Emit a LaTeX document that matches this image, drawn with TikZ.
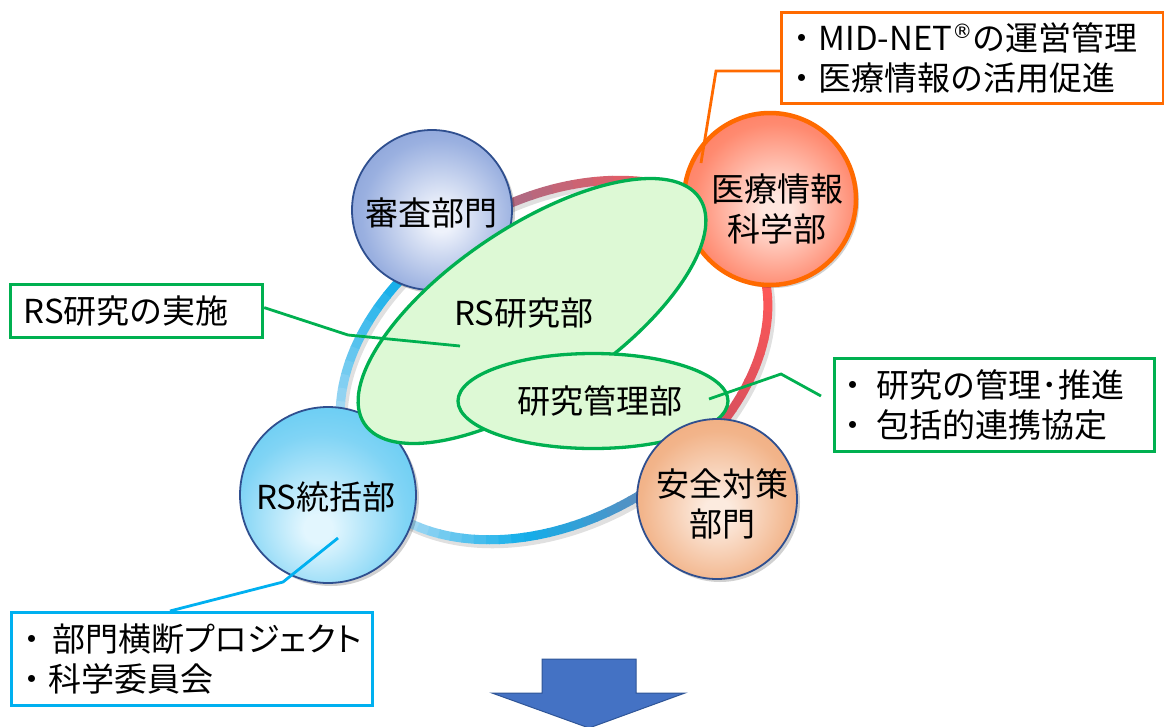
\documentclass[tikz,border=0pt]{standalone}
\usepackage{fontspec}
\setmainfont{Noto Sans CJK JP}
\newfontfamily\dvfont{DejaVu Sans}
\usetikzlibrary{shapes.geometric,shadows}

\definecolor{rRed}{HTML}{FF5757}
\definecolor{rMauve}{HTML}{A56C88}
\definecolor{rRose}{HTML}{D8505E}
\definecolor{rCyan}{HTML}{12AEEA}
\definecolor{rLight}{HTML}{A8DAF4}
\definecolor{rSteel}{HTML}{5A8EC0}

\definecolor{cShA}{HTML}{EEF2FB}
\definecolor{cShB}{HTML}{9AB0E0}
\definecolor{cShC}{HTML}{6683C6}
\definecolor{cIrA}{HTML}{FFE6DE}
\definecolor{cIrB}{HTML}{FF8A70}
\definecolor{cIrC}{HTML}{FF5533}
\definecolor{cToA}{HTML}{E2F6FE}
\definecolor{cToB}{HTML}{80D4F5}
\definecolor{cToC}{HTML}{38BEEF}
\definecolor{cAnA}{HTML}{FCEBDF}
\definecolor{cAnB}{HTML}{F2B48A}
\definecolor{cAnC}{HTML}{EC9963}

\definecolor{deptBorder}{HTML}{2F4F8F}
\definecolor{cOrange}{HTML}{FF6A00}
\definecolor{cGreen}{HTML}{00B050}
\definecolor{cGFill}{HTML}{DDF9D5}
\definecolor{cCyan}{HTML}{00B0F0}
\definecolor{cArrow}{HTML}{4472C4}
\definecolor{cArrowB}{HTML}{2F5597}

\pgfdeclareradialshading{shShinsa}{\pgfpoint{3bp}{-3bp}}{color(0bp)=(cShA); color(4bp)=(cShA); color(24bp)=(cShB); color(50bp)=(cShC); color(75bp)=(cShC)}
\pgfdeclareradialshading{shIryo}{\pgfpoint{2bp}{-3bp}}{color(0bp)=(cIrA); color(4bp)=(cIrA); color(24bp)=(cIrB); color(50bp)=(cIrC); color(75bp)=(cIrC)}
\pgfdeclareradialshading{shTokatsu}{\pgfpoint{-3bp}{-10bp}}{color(0bp)=(cToA); color(4bp)=(cToA); color(24bp)=(cToB); color(50bp)=(cToC); color(75bp)=(cToC)}
\pgfdeclareradialshading{shAnzen}{\pgfpoint{0bp}{-4bp}}{color(0bp)=(cAnA); color(4bp)=(cAnA); color(24bp)=(cAnB); color(50bp)=(cAnC); color(75bp)=(cAnC)}

\begin{document}
\begin{tikzpicture}[x=1pt,y=-1pt,
  dept/.style={circle, inner sep=0pt, line width=1.8pt, draw=deptBorder,
    drop shadow={shadow xshift=3pt, shadow yshift=-3pt, opacity=0.18, fill=black}},
  jtext/.style={font=\fontsize{33}{40}\selectfont, align=center, inner sep=0pt},
  grp/.style={ellipse, inner sep=0pt, draw=cGreen, line width=3.3pt, fill=cGFill},
  box/.style={draw, line width=3.2pt, fill=white, inner ysep=0pt, align=left,
    anchor=north west, font=\fontsize{33}{40}\selectfont},
  conn/.style={line width=2.8pt}
]
\useasboundingbox (0,0) rectangle (1164,726);
\fill[white] (0,0) rectangle (1164,726);

% ring shadow
\begin{scope}[shift={(557,364)}, y=1pt, rotate=30]
  \draw[line width=9pt, black, opacity=0.12] (0,0) ellipse [x radius=229, y radius=160];
\end{scope}
% ring
\begin{scope}[shift={(554,360)}, y=1pt, rotate=30]
  \foreach \ta/\tb/\ca/\cb in {-60/-15/rRose/rRed, -15/30/rRed/rRed, 30/85/rRed/rMauve, 85/115/rMauve/rCyan, 115/158/rCyan/rLight, 158/205/rLight/rLight, 205/240/rLight/rCyan, 240/272/rCyan/rSteel, 272/300/rSteel/rRose}{
    \foreach \i in {0,...,9}{
      \pgfmathsetmacro\u{\ta+(\tb-\ta)*\i/10}
      \pgfmathsetmacro\v{\ta+(\tb-\ta)*(\i+1)/10+0.3}
      \pgfmathtruncatemacro\p{95-10*\i}
      \draw[line width=9pt, draw=\ca!\p!\cb] (\u:229 and 160) arc[start angle=\u, end angle=\v, x radius=229, y radius=160];
    }
  }
\end{scope}

% departments
\node[dept, minimum size=160pt, shading=shShinsa] (shinsa) at (432,210) {};
\node[jtext] (shinsaT) at (431,213) {審査部門};

\node[dept, minimum size=172pt, shading=shIryo, draw=cOrange, line width=4.5pt] (iryo) at (770,199) {};
\node[jtext] (iryoT) at (777,209) {医療情報\\科学部};

\node[dept, minimum size=176pt, shading=shTokatsu] (tokatsu) at (328,495) {};
\node[jtext] (tokatsuT) at (326,497) {RS統括部};

% research groups
\node[grp, minimum width=404pt, minimum height=167pt, rotate=34] (rsken) at (532,311) {};
\node[jtext] (rskenT) at (524,313) {RS研究部};

\node[grp, minimum width=270pt, minimum height=95pt] (kanri) at (593,401) {};
\node[jtext] (kanriT) at (600,401) {研究管理部};

\node[dept, minimum size=160pt, shading=shAnzen] (anzen) at (717,499) {};
\node[jtext] (anzenT) at (722,504) {安全対策\\部門};

% callout boxes
\node[box, draw=cOrange, minimum width=382pt, minimum height=91pt, inner xsep=4pt, text width=374pt] (bmid) at (780,11)
  {・MID-NET\raisebox{12pt}{\dvfont\fontsize{20}{20}\selectfont ®}の運営管理\\・医療情報の活用促進};
\node[box, draw=cGreen, minimum width=252pt, minimum height=53pt, inner xsep=13pt, text width=226pt] (bleft) at (9,283)
  {RS研究の実施};
\node[box, draw=cGreen, minimum width=320pt, minimum height=93pt, inner xsep=2pt, text width=316pt] (bright) at (833,357)
  {・\hspace{7pt}研究の管理･推進\\・\hspace{7pt}包括的連携協定};
\node[box, draw=cCyan, minimum width=361pt, minimum height=93pt, inner xsep=4pt, text width=353pt] (bbot) at (10,611)
  {・\hspace{4pt}部門横断{\addfontfeatures{RawFeature=+palt}プロジェクト}\\・科学委員会};

% connectors
\coordinate (o1) at (716,71);
\coordinate (o2) at (701,163);
\draw[conn, draw=cOrange] (bmid.west |- o1) -- (o1) -- (o2);

\coordinate (g1) at (348,335);
\coordinate (g2) at (460,346);
\draw[conn, draw=cGreen] ([yshift=3.5pt]bleft.east) -- (g1) -- (g2);

\coordinate (k1) at (709,399);
\coordinate (k2) at (781,374);
\coordinate (k3) at (821,396);
\draw[conn, draw=cGreen] (k1) -- (k2) -- (k3);

\coordinate (c1) at (283,582);
\coordinate (c2) at (338,538);
\draw[conn, draw=cCyan] ([xshift=160pt]bbot.north west) -- (c1) -- (c2);

% down arrow
\draw[fill=cArrow, draw=cArrowB, line width=1pt] (542,659) -- (636,659) -- (636,693) -- (685,693) -- (589,728) -- (492,693) -- (542,693) -- cycle;
\end{tikzpicture}
\end{document}
